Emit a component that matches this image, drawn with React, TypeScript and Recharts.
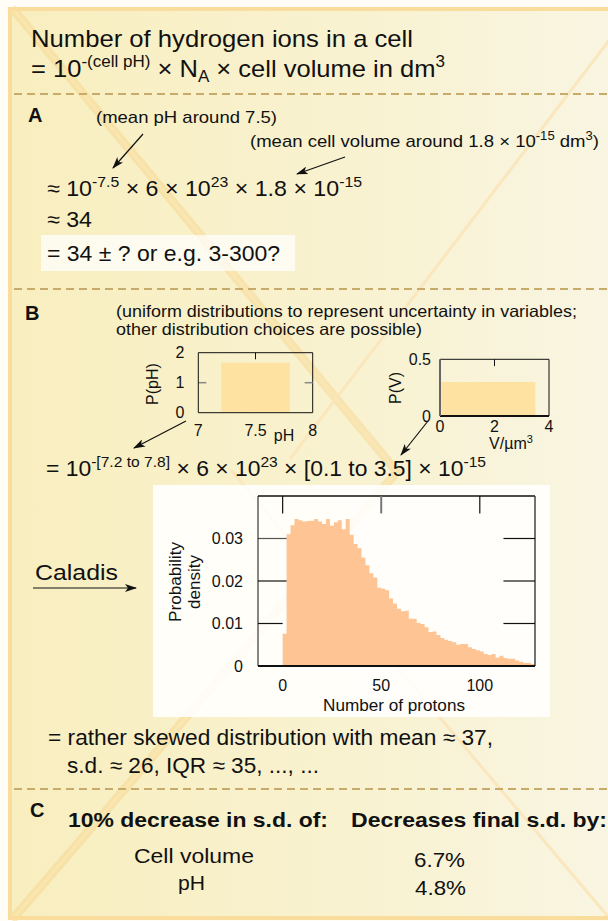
import React from "react";
import { ComposedChart, Area, XAxis, YAxis, ReferenceLine } from "recharts";

const FONT = "'Liberation Sans', Arial, Helvetica, sans-serif";
const INK = "#111";

// ---------- histogram of number of protons (Caladis output) ----------
const HIST_FIRST_BIN = 0;
const HIST_BIN_WIDTH = 2;
const histDensity = [
  0.0076, 0.031, 0.0331, 0.0346, 0.0343, 0.034, 0.0341, 0.0342, 0.0346, 0.034,
  0.0334, 0.0346, 0.033, 0.0338, 0.0343, 0.0322, 0.0346, 0.0309, 0.0287, 0.0277,
  0.0255, 0.0237, 0.0218, 0.0208, 0.0184, 0.0182, 0.0178, 0.0159, 0.0147, 0.0135,
  0.0129, 0.013, 0.0111, 0.0111, 0.0101, 0.0099, 0.0091, 0.008, 0.0081, 0.0073,
  0.0066, 0.0062, 0.0059, 0.0056, 0.005, 0.0052, 0.0052, 0.0044, 0.004, 0.0037,
  0.0034, 0.0028, 0.0026, 0.0028, 0.002, 0.0024, 0.0019, 0.0017, 0.0017, 0.0013,
  0.001, 0.0007, 0.0007, 0.0005,
];
const histXDomain = [-12.5, 128];
const histYDomain = [0, 0.04];
const histXTicks = [0, 50, 100];
const histYTicks = [0, 0.01, 0.02, 0.03];

// ---------- uniform input distributions ----------
const phRange = [7.2, 7.8];
const phDensity = 1.667;
const phXTicks = [7, 7.5, 8];
const phYTicks = [0, 1, 2];

const volRange = [0.05, 3.5];
const volDensity = 0.3;
const volXTicks = [0, 2, 4];
const volYTicks = [0, 0.5];

const histData = histDensity.map((d, i) => ({ x: HIST_FIRST_BIN + i * HIST_BIN_WIDTH, d }));
histData.push({
  x: HIST_FIRST_BIN + histDensity.length * HIST_BIN_WIDTH,
  d: histDensity[histDensity.length - 1],
});
const phData = phRange.map((x) => ({ x, p: phDensity }));
const volData = volRange.map((x) => ({ x, p: volDensity }));

const tickStyle = { fontSize: 16, fill: INK, fontFamily: FONT };

function HistChart() {
  return (
    <div style={{ position: "absolute", left: 153, top: 485 }}>
      <ComposedChart width={397} height={232} data={histData} margin={{ top: 11, right: 15, left: 0, bottom: 0 }}>
        <XAxis
          dataKey="x"
          type="number"
          domain={histXDomain}
          ticks={histXTicks}
          allowDataOverflow
          tickLine={false}
          tickSize={0}
          tickMargin={14}
          axisLine={{ stroke: INK, strokeWidth: 2 }}
          tick={tickStyle}
          height={51}
          label={{
            content: () => (
              <text x={241} y={226} textAnchor="middle" fontSize={17} fontFamily={FONT} fill={INK}
                textLength={142} lengthAdjust="spacingAndGlyphs">
                Number of protons
              </text>
            ),
          }}
        />
        <YAxis
          type="number"
          domain={histYDomain}
          ticks={histYTicks}
          allowDataOverflow
          width={105}
          tickLine={false}
          tickSize={0}
          tickMargin={15}
          axisLine={{ stroke: INK, strokeWidth: 1 }}
          tick={tickStyle}
          tickFormatter={(v: number) => (v === 0 ? "0" : v.toFixed(2))}
          label={{
            content: () => (
              <g fontSize={17} fontFamily={FONT} fill={INK}>
                <text x={22} y={97} transform="rotate(-90 22 97)" textAnchor="middle" dominantBaseline="central"
                  textLength={80} lengthAdjust="spacingAndGlyphs">
                  Probability
                </text>
                <text x={41} y={97} transform="rotate(-90 41 97)" textAnchor="middle" dominantBaseline="central">
                  density
                </text>
              </g>
            ),
          }}
        />
        <Area
          type="stepAfter"
          dataKey="d"
          stroke="none"
          fill="#fec493"
          fillOpacity={1}
          dot={false}
          activeDot={false}
          isAnimationActive={false}
        />
        <ReferenceLine y={0.04} stroke={INK} strokeWidth={1.5} />
        <ReferenceLine x={128} stroke="#444" strokeWidth={1.5} />
        <ReferenceLine segment={[{ x: 0, y: 0.04 }, { x: 0, y: 0.0359 }]} stroke={INK} strokeWidth={1.2} />
        <ReferenceLine segment={[{ x: 50, y: 0.04 }, { x: 50, y: 0.0359 }]} stroke="#777" strokeWidth={2} />
        <ReferenceLine segment={[{ x: 100, y: 0.04 }, { x: 100, y: 0.0359 }]} stroke={INK} strokeWidth={1.2} />
        <ReferenceLine segment={[{ x: -12.5, y: 0.01 }, { x: 0, y: 0.01 }]} stroke={INK} strokeWidth={1.2} />
        <ReferenceLine segment={[{ x: -12.5, y: 0.02 }, { x: 2, y: 0.02 }]} stroke={INK} strokeWidth={1.2} />
        <ReferenceLine segment={[{ x: -12.5, y: 0.03 }, { x: 2, y: 0.03 }]} stroke="#555" strokeWidth={1.2} />
        <ReferenceLine segment={[{ x: 112, y: 0.01 }, { x: 128, y: 0.01 }]} stroke={INK} strokeWidth={1.2} />
        <ReferenceLine segment={[{ x: 112, y: 0.02 }, { x: 128, y: 0.02 }]} stroke={INK} strokeWidth={1.2} />
        <ReferenceLine segment={[{ x: 112, y: 0.03 }, { x: 128, y: 0.03 }]} stroke={INK} strokeWidth={1.2} />
      </ComposedChart>
    </div>
  );
}

function PhChart() {
  return (
    <div style={{ position: "absolute", left: 130, top: 340 }}>
      <ComposedChart width={195} height={110} data={phData} margin={{ top: 12.7, right: 12.3, left: 0, bottom: 0 }}>
        <XAxis
          dataKey="x"
          type="number"
          domain={[7, 8]}
          ticks={phXTicks}
          tickLine={false}
          tickSize={0}
          tickMargin={12}
          axisLine={{ stroke: INK }}
          tick={tickStyle}
          height={37.3}
          label={{
            content: () => (
              <text x={154} y={101} textAnchor="middle" fontSize={16} fontFamily={FONT} fill={INK}>
                pH
              </text>
            ),
          }}
        />
        <YAxis
          type="number"
          domain={[0, 2]}
          ticks={phYTicks}
          width={68.3}
          tickLine={false}
          tickSize={0}
          tickMargin={14}
          axisLine={{ stroke: INK }}
          tick={tickStyle}
          label={{
            content: () => (
              <text x={22} y={44} transform="rotate(-90 22 44)" textAnchor="middle" dominantBaseline="central"
                fontSize={16} fontFamily={FONT} fill={INK}>
                P(pH)
              </text>
            ),
          }}
        />
        <Area type="linear" dataKey="p" stroke="none" fill="#fde2a1" fillOpacity={1} dot={false} activeDot={false}
          isAnimationActive={false} />
        <ReferenceLine y={2} stroke={INK} strokeWidth={1} />
        <ReferenceLine x={8} stroke={INK} strokeWidth={1} />
        <ReferenceLine segment={[{ x: 7.5, y: 2 }, { x: 7.5, y: 1.78 }]} stroke={INK} strokeWidth={1} />
        <ReferenceLine segment={[{ x: 7, y: 1 }, { x: 7.07, y: 1 }]} stroke="#888" strokeWidth={1.5} />
        <ReferenceLine segment={[{ x: 7.93, y: 1 }, { x: 8, y: 1 }]} stroke="#888" strokeWidth={1.5} />
      </ComposedChart>
    </div>
  );
}

function VolChart() {
  return (
    <div style={{ position: "absolute", left: 370, top: 345 }}>
      <ComposedChart width={190} height={110} data={volData} margin={{ top: 14.3, right: 11, left: 0, bottom: 0 }}>
        <XAxis
          dataKey="x"
          type="number"
          domain={[0, 4]}
          ticks={volXTicks}
          tickLine={false}
          tickSize={0}
          tickMargin={5}
          axisLine={{ stroke: INK, strokeWidth: 2 }}
          tick={tickStyle}
          height={39}
          label={{
            content: () => (
              <text x={141} y={104} textAnchor="middle" fontSize={16} fontFamily={FONT} fill={INK}>
                V/µm<tspan dy={-6} fontSize={11}>3</tspan>
              </text>
            ),
          }}
        />
        <YAxis
          type="number"
          domain={[0, 0.5]}
          ticks={volYTicks}
          width={70}
          tickLine={false}
          tickSize={0}
          tickMargin={9}
          axisLine={{ stroke: "#666", strokeWidth: 2 }}
          tick={tickStyle}
          tickFormatter={(v: number) => (v === 0 ? "0" : String(v))}
          label={{
            content: () => (
              <text x={25} y={43} transform="rotate(-90 25 43)" textAnchor="middle" dominantBaseline="central"
                fontSize={16} fontFamily={FONT} fill={INK}>
                P(V)
              </text>
            ),
          }}
        />
        <Area type="linear" dataKey="p" stroke="none" fill="#fde2a1" fillOpacity={1} dot={false} activeDot={false}
          isAnimationActive={false} />
        <ReferenceLine y={0.5} stroke={INK} strokeWidth={1} />
        <ReferenceLine x={4} stroke={INK} strokeWidth={1} />
        <ReferenceLine segment={[{ x: 2, y: 0.5 }, { x: 2, y: 0.44 }]} stroke={INK} strokeWidth={1} />
      </ComposedChart>
    </div>
  );
}

type TProps = {
  x: number;
  y: number;
  size: number;
  len?: number;
  bold?: boolean;
  anchor?: "start" | "middle" | "end";
  children: React.ReactNode;
};
function T({ x, y, size, len, bold, anchor, children }: TProps) {
  return (
    <text
      x={x}
      y={y}
      fontSize={size}
      fontFamily={FONT}
      fontWeight={bold ? 700 : 400}
      fill={INK}
      textAnchor={anchor || "start"}
      textLength={len}
      lengthAdjust={len ? "spacingAndGlyphs" : undefined}
    >
      {children}
    </text>
  );
}

function Backdrop() {
  const dash = { stroke: "#c8ab6a", strokeWidth: 2, strokeDasharray: "8 5" };
  const arrow = { stroke: INK, strokeWidth: 1.2, markerEnd: "url(#ah)" };
  return (
    <svg width={608} height={921} style={{ position: "absolute", left: 0, top: 0 }}>
      <defs>
        <linearGradient id="bg" x1="0" y1="0" x2="1" y2="0">
          <stop offset="0" stopColor="#f8eebf" />
          <stop offset="0.55" stopColor="#f9f2d0" />
          <stop offset="1" stopColor="#f8f5e2" />
        </linearGradient>
        <marker id="ah" markerWidth="12" markerHeight="8" refX="11" refY="4" orient="auto" markerUnits="userSpaceOnUse">
          <path d="M0,0 L12,4 L0,8 L3,4 Z" fill={INK} />
        </marker>
      </defs>
      <rect x={0} y={0} width={608} height={921} fill="#fffdf5" />
      <rect x={9} y={8} width={610} height={912} fill="url(#bg)" />
      {/* decorative diagonals */}
      <polyline points="12,8 397,472 12,920" fill="none" stroke="#f4cf7c" strokeWidth={9} opacity={0.4} />
      <polyline points="12,8 397,472 12,920" fill="none" stroke="#fbe7b8" strokeWidth={3} opacity={0.6} />
      <line x1={620} y1={26} x2={290} y2={459} stroke="#fbe6bb" strokeWidth={3} opacity={0.9} />
      <line x1={610} y1={919} x2={231} y2={470} stroke="#fbe6bb" strokeWidth={3} opacity={0.9} />
      {/* frame */}
      <rect x={10} y={9} width={620} height={909} fill="none" stroke="#fadd9c" strokeWidth={4} />
      {/* section separators */}
      <line x1={14} y1={94} x2={608} y2={94} {...dash} />
      <line x1={14} y1={289} x2={608} y2={289} {...dash} />
      <line x1={14} y1={789} x2={608} y2={789} {...dash} />
      {/* highlight boxes */}
      <rect x={41} y={235} width={254} height={36} fill="#ffffff" opacity={0.72} />
      <rect x={153} y={485} width={397} height={232} fill="#ffffff" opacity={0.88} />
      {/* arrows */}
      <line x1={143} y1={134} x2={113} y2={168} {...arrow} />
      <line x1={345} y1={157} x2={297} y2={174} {...arrow} />
      <line x1={186} y1={421} x2={134} y2={448} {...arrow} />
      <line x1={428} y1={421} x2={401} y2={455} {...arrow} />
      <line x1={33} y1={588} x2={136} y2={588} {...arrow} />

      {/* title */}
      <T x={31} y={47} size={24} len={382}>Number of hydrogen ions in a cell</T>
      <T x={31} y={77} size={24} len={414}>
        = 10<tspan dy={-10} fontSize={16}>-(cell pH)</tspan>
        <tspan dy={10}> × N</tspan>
        <tspan dy={5} fontSize={16}>A</tspan>
        <tspan dy={-5}> × cell volume in dm</tspan>
        <tspan dy={-10} fontSize={16}>3</tspan>
      </T>

      {/* section A */}
      <T x={28} y={122} size={20} bold>A</T>
      <T x={96} y={123} size={17} len={181}>(mean pH around 7.5)</T>
      <T x={250} y={147} size={17} len={349}>
        (mean cell volume around 1.8 × 10<tspan dy={-7} fontSize={12}>-15</tspan>
        <tspan dy={7}> dm</tspan>
        <tspan dy={-7} fontSize={12}>3</tspan>
        <tspan dy={7}>)</tspan>
      </T>
      <T x={47} y={196} size={22} len={315}>
        ≈ 10<tspan dy={-9} fontSize={15}>-7.5</tspan>
        <tspan dy={9}> × 6 × 10</tspan>
        <tspan dy={-9} fontSize={15}>23</tspan>
        <tspan dy={9}> × 1.8 × 10</tspan>
        <tspan dy={-9} fontSize={15}>-15</tspan>
      </T>
      <T x={47} y={227} size={22} len={45}>≈ 34</T>
      <T x={47} y={261} size={22} len={233}>= 34 ± ? or e.g. 3-300?</T>

      {/* section B */}
      <T x={25} y={320} size={20} bold>B</T>
      <T x={116} y={317} size={16.5} len={461}>(uniform distributions to represent uncertainty in variables;</T>
      <T x={116} y={335} size={16.5} len={306}>other distribution choices are possible)</T>
      <T x={46} y={476} size={22} len={440}>
        = 10<tspan dy={-9} fontSize={15}>-[7.2 to 7.8]</tspan>
        <tspan dy={9}> × 6 × 10</tspan>
        <tspan dy={-9} fontSize={15}>23</tspan>
        <tspan dy={9}> × [0.1 to 3.5] × 10</tspan>
        <tspan dy={-9} fontSize={15}>-15</tspan>
      </T>
      <T x={35} y={580} size={22} len={83}>Caladis</T>
      <T x={48} y={745} size={22} len={445}>= rather skewed distribution with mean ≈ 37,</T>
      <T x={67} y={773} size={22} len={252}>s.d. ≈ 26, IQR ≈ 35, ..., ...</T>

      {/* section C */}
      <T x={30} y={817} size={20} bold>C</T>
      <T x={68} y={827} size={20} len={260} bold>10% decrease in s.d. of:</T>
      <T x={351} y={827} size={20} len={256} bold>Decreases final s.d. by:</T>
      <T x={134} y={863} size={20} len={120}>Cell volume</T>
      <T x={178} y={890} size={20} len={27}>pH</T>
      <T x={414} y={867} size={20} len={51}>6.7%</T>
      <T x={415} y={895} size={20} len={51}>4.8%</T>
    </svg>
  );
}

export default function App() {
  return (
    <div
      style={{
        position: "absolute",
        left: 0,
        top: 0,
        width: 608,
        height: 921,
        overflow: "hidden",
        fontFamily: FONT,
        background: "#fffdf5",
      }}
    >
      <Backdrop />
      <PhChart />
      <VolChart />
      <HistChart />
    </div>
  );
}
